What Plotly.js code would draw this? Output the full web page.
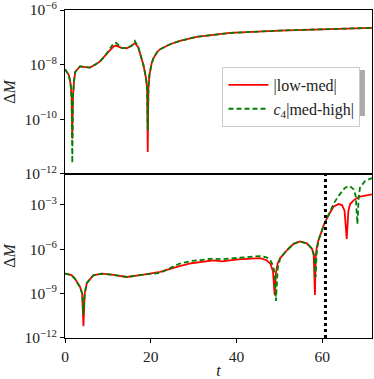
<!DOCTYPE html>
<html>
<head>
<meta charset="utf-8">
<script src="https://cdn.plot.ly/plotly-3.0.1.min.js"></script>
<style>
  html, body { margin: 0; padding: 0; background: #fff; }
  #chart { width: 374px; height: 379px; }
</style>
</head>
<body>
<div id="chart"></div>
<script>
// Mass error between resolutions, upper panel
const tTop = [0, 0.9, 1.3, 1.55, 1.7, 1.85, 2.1, 2.4, 3.5, 4.5, 5.8, 7.0, 8.2, 9.7, 11.3, 11.9,
  13.2, 14.4, 15.6, 16.3, 17.1, 18.3, 18.9, 19.15, 19.3, 19.45, 19.7, 20.2, 20.6, 21.4, 22.2,
  24.5, 26.8, 30.7, 38.5, 50.2, 61.8, 71.6];
const lowMedTop = [6.8e-9, 4.2e-9, 2.0e-9, 6.3e-10, 2.0e-11, 6.3e-10, 2.5e-9, 5.5e-9, 8.7e-9, 8.3e-9,
  7.8e-9, 1.0e-8, 1.32e-8, 2.5e-8, 4.6e-8, 5.0e-8, 4.1e-8, 4.0e-8, 5.0e-8, 6.2e-8, 4.3e-8, 9.5e-9,
  3.2e-9, 1.3e-9, 6.3e-12, 1.3e-9, 4.3e-9, 1.1e-8, 1.66e-8, 2.8e-8, 3.7e-8, 5.6e-8, 7.4e-8, 1.05e-7,
  1.45e-7, 1.78e-7, 2.04e-7, 2.24e-7];
const medHighTop = [6.8e-9, 4.2e-9, 2.0e-9, 5.5e-10, 2.5e-12, 5.5e-10, 2.5e-9, 5.5e-9, 8.7e-9, 8.3e-9,
  7.8e-9, 1.0e-8, 1.32e-8, 2.5e-8, 6.0e-8, 6.4e-8, 4.1e-8, 4.0e-8, 5.0e-8, 7.4e-8, 4.3e-8, 9.5e-9,
  3.2e-9, 1.3e-9, 4.0e-11, 1.3e-9, 4.3e-9, 1.1e-8, 1.66e-8, 2.8e-8, 3.7e-8, 5.6e-8, 7.4e-8, 1.05e-7,
  1.45e-7, 1.78e-7, 2.04e-7, 2.24e-7];

// Lower panel
const tBot = [0, 1.5, 2.3, 3.5, 4.0, 4.3, 4.6, 5.1, 6.6, 8.6, 11.3, 14.4, 18.3, 22.2, 26.5, 29.5,
  34.6, 36.6, 40.4, 45.5, 47.0, 47.9, 48.5, 48.9, 49.2, 49.6, 50.2, 51.7, 53.3, 54.8, 56.4, 57.6,
  58.0, 58.3, 58.45, 58.7, 59.1, 60.3, 61.4, 62.6, 63.8, 64.6, 65.2, 65.7, 66.1, 66.5, 67.3, 67.8,
  68.2, 68.5, 68.8, 70.0, 71.6];
const lowMedBot = [2.24e-8, 1.78e-8, 1.02e-8, 2.8e-9, 1.0e-9, 6.3e-12, 1.0e-9, 5.2e-9, 1.7e-8, 2.24e-8,
  1.82e-8, 1.32e-8, 1.9e-8, 2.9e-8, 6.9e-8, 1.12e-7, 1.74e-7, 1.48e-7, 2.04e-7, 2.5e-7, 1.78e-7,
  1.05e-7, 3.2e-8, 7.9e-10, 2.5e-8, 1.12e-7, 2.5e-7, 8.1e-7, 2.3e-6, 3.3e-6, 2.5e-6, 1.07e-6,
  4.0e-7, 7.9e-10, 2.5e-7, 1.26e-6, 3.8e-6, 3.9e-5, 1.82e-4, 7.4e-4, 1.12e-3, 9.5e-4, 4.0e-4,
  5.0e-6, 4.0e-4, 1.12e-3, 2.0e-3, 2.6e-3, 3.2e-3, 3.3e-3, 3.5e-3, 4.2e-3, 5.0e-3];
const medHighBot = [2.24e-8, 1.78e-8, 1.02e-8, 2.8e-9, 1.0e-9, 4.0e-11, 1.0e-9, 5.2e-9, 1.7e-8, 2.24e-8,
  1.82e-8, 1.32e-8, 1.9e-8, 2.5e-8, 1.0e-7, 1.6e-7, 2.3e-7, 2.1e-7, 2.6e-7, 3.4e-7, 2.8e-7,
  1.74e-7, 7.9e-8, 2.5e-8, 3.2e-10, 5.0e-8, 2.5e-7, 8.1e-7, 2.3e-6, 3.3e-6, 2.5e-6, 1.07e-6,
  5.0e-7, 1.26e-7, 1.32e-8, 6.3e-7, 3.8e-6, 3.9e-5, 1.82e-4, 1.12e-3, 4.0e-3, 7.9e-3, 1.3e-2,
  1.58e-2, 1.9e-2, 1.78e-2, 1.12e-2, 4.0e-3, 5.0e-5, 3.2e-3, 1.45e-2, 4.1e-2, 6.3e-2];

const tMarker = 60.75;

const topTicks = [1e-12, 1e-10, 1e-8, 1e-6];
const topTickText = ['10<sup>\u221212</sup>', '10<sup>\u221210</sup>', '10<sup>\u22128</sup>', '10<sup>\u22126</sup>'];
const botTicks = [1e-12, 1e-9, 1e-6, 1e-3];
const botTickText = ['10<sup>\u221212</sup>', '10<sup>\u22129</sup>', '10<sup>\u22126</sup>', '10<sup>\u22123</sup>'];
const xTicks = [0, 20, 40, 60];

const font = 'Liberation Serif, DejaVu Serif, serif';
const red = '#ff0000';
const green = '#008000';

const traces = [
  { x: tTop, y: lowMedTop, xaxis: 'x', yaxis: 'y', mode: 'lines', name: '|low-med|',
    line: { color: red, width: 1.8 } },
  { x: tTop, y: medHighTop, xaxis: 'x', yaxis: 'y', mode: 'lines', name: '<i>c</i><sub>4</sub>|med-high|',
    line: { color: green, width: 1.8, dash: '5px,3px' } },
  { x: tBot, y: lowMedBot, xaxis: 'x2', yaxis: 'y2', mode: 'lines', showlegend: false,
    line: { color: red, width: 1.8 } },
  { x: tBot, y: medHighBot, xaxis: 'x2', yaxis: 'y2', mode: 'lines', showlegend: false,
    line: { color: green, width: 1.8, dash: '5px,3px' } }
];

const axisCommon = {
  showline: true, mirror: true, linecolor: '#000', linewidth: 1,
  showgrid: false, zeroline: false, ticks: 'outside', ticklen: 4, tickcolor: '#000',
  ticklabeloverflow: 'allow',
  tickfont: { family: font, size: 15.5, color: '#222' }
};

const layout = {
  width: 374, height: 379,
  margin: { l: 65, r: 2, t: 10, b: 41 },
  paper_bgcolor: '#fff', plot_bgcolor: '#fff',
  font: { family: font, size: 15, color: '#222' },
  showlegend: true,
  legend: {
    x: 0.513, y: 0.826, xanchor: 'left', yanchor: 'top',
    bgcolor: '#fff', bordercolor: '#ccc', borderwidth: 1,
    font: { family: font, size: 16, color: '#222' },
    itemwidth: 40,
    tracegroupgap: 0
  },
  xaxis: Object.assign({}, axisCommon, {
    domain: [0, 1], anchor: 'y', range: [0, 71.6], matches: 'x2',
    showticklabels: false, ticks: ''
  }),
  yaxis: Object.assign({}, axisCommon, {
    domain: [0.5, 1], anchor: 'x', type: 'log', range: [-12.002, -5.998],
    tickvals: topTicks, ticktext: topTickText,
    title: { text: '\u0394<i>M</i>', font: { family: font, size: 16, color: '#222' }, standoff: 4 }
  }),
  xaxis2: Object.assign({}, axisCommon, {
    domain: [0, 1], anchor: 'y2', range: [0, 71.6],
    tickvals: xTicks,
    title: { text: '<i>t</i>', font: { family: font, size: 16, color: '#222' }, standoff: 2 }
  }),
  yaxis2: Object.assign({}, axisCommon, {
    domain: [0, 0.5], anchor: 'x2', type: 'log', range: [-12.002, -0.92],
    tickvals: botTicks, ticktext: botTickText,
    title: { text: '\u0394<i>M</i>', font: { family: font, size: 16, color: '#222' }, standoff: 4 }
  }),
  shapes: [
    { type: 'line', xref: 'x2', yref: 'y2 domain', x0: tMarker, x1: tMarker, y0: 0, y1: 1,
      line: { color: '#000', width: 3, dash: 'dot' } },
    // legend shadow
    { type: 'rect', xref: 'paper', yref: 'paper', x0: 0.524, x1: 0.977, y0: 0.677, y1: 0.817,
      fillcolor: '#aaa', line: { width: 0 }, layer: 'above' }
  ]
};

Plotly.newPlot('chart', traces, layout, { staticPlot: true });
</script>
</body>
</html>
